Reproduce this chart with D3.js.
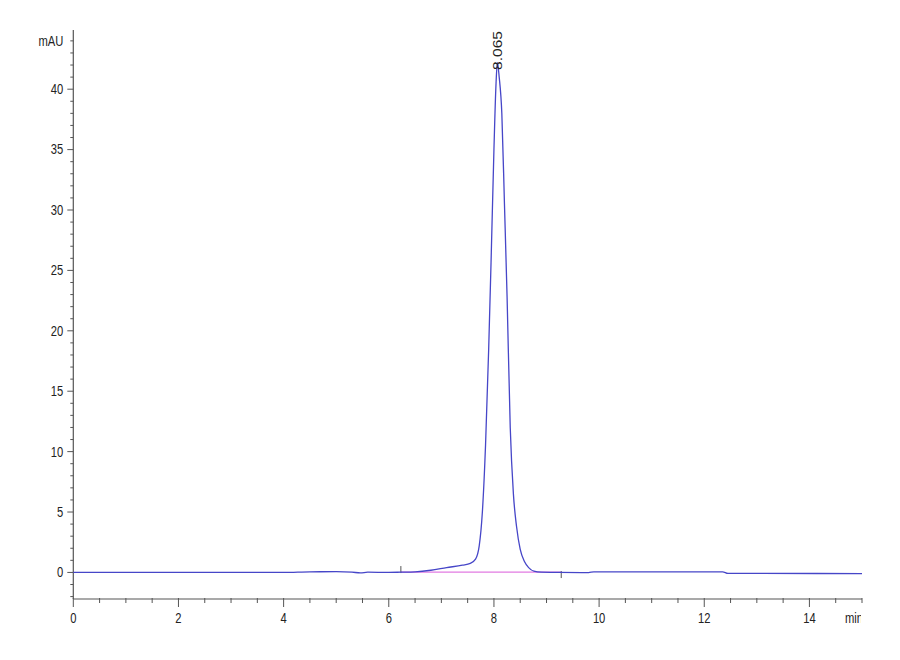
<!DOCTYPE html>
<html>
<head>
<meta charset="utf-8">
<script src="https://cdn.jsdelivr.net/npm/d3@7"></script>
<style>
  body { margin: 0; background: #fff; }
  text { font-family: "Liberation Sans", Arial, sans-serif; fill: #222; }
</style>
</head>
<body>
<div id="chart"></div>
<script>
// chromatogram trace (min, mAU)
const times = [0, 4.0, 4.5, 5.0, 5.3, 5.46, 5.6, 6.0, 6.23, 6.5, 6.8, 7.1, 7.4, 7.55, 7.65, 7.72, 7.78,
    7.84, 7.90, 7.95, 8.0, 8.04, 8.065, 8.10, 8.15, 8.20, 8.25, 8.31, 8.37, 8.43, 8.50, 8.58, 8.66, 8.76,
    8.9, 9.25, 9.8, 9.9, 10.0, 11.0, 12.35, 12.45, 13.0, 15.0];
const signal = [0, 0, 0.05, 0.06, 0.02, -0.04, 0.02, 0, 0.02, 0.05, 0.18, 0.4, 0.6, 0.75, 1.1, 2.2, 5.0,
    10.5, 18.5, 26.5, 35.0, 40.5, 42.2, 41.0, 38.0, 30.5, 22.8, 12.0, 6.5, 3.8, 1.9, 0.9, 0.4, 0.1,
    0.02, 0, -0.02, 0.05, 0.05, 0.05, 0.05, -0.08, -0.08, -0.1];

// integration baseline and peak label
const baseTimes = [6.23, 9.28];
const baseValues = [0.03, 0.03];
const peakTime = 8.065;
const peakLabel = "8.065";

const xTicks = [0, 2, 4, 6, 8, 10, 12, 14];
const yTicks = [0, 5, 10, 15, 20, 25, 30, 35, 40];

const width = 900, height = 660;
const x = d3.scaleLinear().domain([0, 15]).range([73.3, 862]);
const y = d3.scaleLinear().domain([-2.2, 44.9]).range([599, 30]);

const svg = d3.select("#chart").append("svg")
    .attr("width", width)
    .attr("height", height);

svg.append("rect").attr("width", width).attr("height", height).attr("fill", "#fff");

svg.append("clipPath").attr("id", "clip")
    .append("rect").attr("x", 0).attr("y", 0).attr("width", 861).attr("height", height);

const axisColor = "#555";
const squeeze = 0.8; // the labels in the picture are narrow

// x axis: minor every 0.5, labels every 2
const xAxis = svg.append("g").attr("transform", `translate(0,${y(-2.2)})`);
xAxis.append("line")
    .attr("x1", x(0)).attr("x2", x(15))
    .attr("stroke", axisColor).attr("stroke-width", 1.2);
xAxis.selectAll(".minor")
    .data(d3.range(0, 15.01, 0.5))
    .enter().append("line")
    .attr("x1", d => x(d)).attr("x2", d => x(d))
    .attr("y1", -1).attr("y2", d => d % 2 === 0 ? 8 : 4)
    .attr("stroke", axisColor).attr("stroke-width", 1);
xAxis.selectAll(".lbl")
    .data(xTicks)
    .enter().append("text")
    .attr("transform", d => `translate(${x(d)},24) scale(${squeeze},1)`)
    .attr("text-anchor", "middle")
    .attr("font-size", 14)
    .text(d => d);
xAxis.append("g").attr("clip-path", "url(#clip)")
    .append("text")
    .attr("transform", `translate(845,24) scale(${squeeze},1)`)
    .attr("font-size", 14)
    .text("min");

// y axis: minor every 1, labels every 5
const yAxis = svg.append("g").attr("transform", `translate(${x(0)},0)`);
yAxis.append("line")
    .attr("y1", y(44.9)).attr("y2", y(-2.2))
    .attr("stroke", axisColor).attr("stroke-width", 1.2);
yAxis.selectAll(".minor")
    .data(d3.range(-2, 45, 1))
    .enter().append("line")
    .attr("y1", d => y(d)).attr("y2", d => y(d))
    .attr("x1", d => d % 5 === 0 ? -6 : -3).attr("x2", 0)
    .attr("stroke", axisColor).attr("stroke-width", 1);
yAxis.selectAll(".lbl")
    .data(yTicks)
    .enter().append("text")
    .attr("transform", d => `translate(-10,${y(d)}) scale(${squeeze},1)`)
    .attr("dy", "0.35em")
    .attr("text-anchor", "end")
    .attr("font-size", 14)
    .text(d => d);
yAxis.append("text")
    .attr("transform", `translate(-10,${y(44)}) scale(${squeeze},1)`)
    .attr("dy", "0.35em")
    .attr("text-anchor", "end")
    .attr("font-size", 14)
    .text("mAU");

const line = d3.line()
    .x(d => x(d))
    .curve(d3.curveMonotoneX);

// integration baseline (pink) with start/end marks
svg.append("path")
    .datum(baseTimes)
    .attr("fill", "none")
    .attr("stroke", "#e27be2")
    .attr("stroke-width", 1.3)
    .attr("d", line.y((d, i) => y(baseValues[i])));
svg.append("line")
    .attr("x1", x(baseTimes[0])).attr("x2", x(baseTimes[0]))
    .attr("y1", y(baseValues[0]) - 6).attr("y2", y(baseValues[0]) + 1)
    .attr("stroke", "#555").attr("stroke-width", 1);
svg.append("line")
    .attr("x1", x(baseTimes[1])).attr("x2", x(baseTimes[1]))
    .attr("y1", y(baseValues[1]) - 1).attr("y2", y(baseValues[1]) + 6)
    .attr("stroke", "#555").attr("stroke-width", 1);

// signal trace
svg.append("path")
    .datum(times)
    .attr("fill", "none")
    .attr("stroke", "#4646c8")
    .attr("stroke-width", 1.3)
    .attr("d", line.y((d, i) => y(signal[i])));

// retention time label, rotated
svg.append("text")
    .attr("transform", `translate(${x(peakTime) + 4.5},70) rotate(-90)`)
    .attr("font-size", 13.5)
    .attr("textLength", 39)
    .attr("lengthAdjust", "spacingAndGlyphs")
    .text(peakLabel);
</script>
</body>
</html>
